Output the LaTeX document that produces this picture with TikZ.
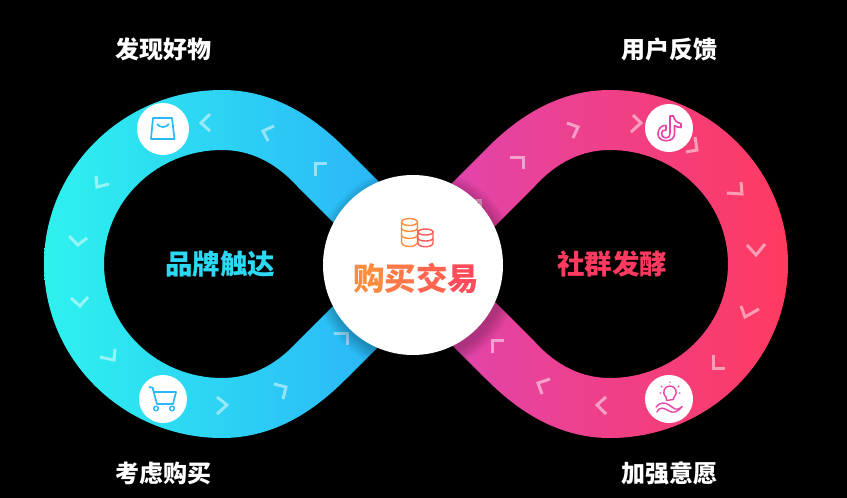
\documentclass[tikz,border=0pt]{standalone}
\usepackage{fontspec}
\setmainfont{Noto Sans CJK SC}
\definecolor{cyanend}{HTML}{2EF2EE}
\definecolor{blueend}{HTML}{2BB4F8}
\definecolor{magentaend}{HTML}{E045AE}
\definecolor{redend}{HTML}{FF3A60}
\definecolor{bagblue}{HTML}{2BB8F6}
\definecolor{iconpink}{HTML}{E545A8}
\definecolor{coinorange}{HTML}{FF8B3E}
\definecolor{coinred}{HTML}{FF5A58}
\tikzset{
  looplabel/.style={text=white,font=\bfseries\fontsize{24}{24}\selectfont,inner sep=0pt},
  lobelabel/.style={font=\bfseries\fontsize{27.5}{28}\selectfont,inner sep=0pt},
  iconspot/.style={circle,fill=white,inner sep=0pt,minimum size=48pt},
  chevronline/.style={white,opacity=.5,line width=3pt},
  bagline/.style={bagblue,line width=1.7pt,line join=round},
  pinkline/.style={iconpink,line width=1.4pt,line join=round,line cap=round},
}
\begin{document}
\begin{tikzpicture}[x=1pt,y=-1pt]
  \fill[black] (0,0) rectangle (847,498);
  \useasboundingbox (0,0) rectangle (847,498);
  % the two lobes of the band
  \shade[left color=cyanend,right color=blueend] (395,198) -- (345,148)
    .. controls (310,113) and (270,90) .. (222,90)
    .. controls (124,90) and (44,168) .. (44,264)
    .. controls (44,360) and (124,438) .. (222,438)
    .. controls (270,438) and (310,415) .. (345,380)
    -- (395,330) -- (350,289) -- (297,342)
    .. controls (275,366) and (250,378) .. (222,378)
    .. controls (157,378) and (104,327) .. (104,264)
    .. controls (104,201) and (157,150) .. (222,150)
    .. controls (250,150) and (275,162) .. (297,186)
    -- (350,239) -- cycle;
  \shade[left color=magentaend,right color=redend] (437,198) -- (487,148)
    .. controls (522,113) and (562,90) .. (610,90)
    .. controls (708,90) and (788,168) .. (788,264)
    .. controls (788,360) and (708,438) .. (610,438)
    .. controls (562,438) and (522,415) .. (487,380)
    -- (437,330) -- (482,289) -- (535,342)
    .. controls (557,366) and (582,378) .. (610,378)
    .. controls (675,378) and (728,327) .. (728,264)
    .. controls (728,201) and (675,150) .. (610,150)
    .. controls (582,150) and (557,162) .. (535,186)
    -- (482,239) -- cycle;
  % chevrons along the band
  \foreach \ax/\ay/\bx/\by/\cx/\cy in {
    210/114/201/123/210/131, 274/126/263/131/268/141, 327/163/315/163/315/176,
    109/184/97/187/96/176, 87/238/78/245/69/236, 88/297/80/306/71/298,
    100/357/114/360/115/349, 217/397/227/405/217/414, 274/384/286/387/283/399,
    334/333/347/333/347/345, 567/123/578/127/573/138, 633/115/641/123/631/132,
    510/157/523/157/523/169, 468/200/480/200/480/212, 686/152/697/150/695/137,
    727/193/742/194/741/182, 747/245/756/255/765/244, 741/306/745/317/759/309,
    713/355/713/368/725/368, 606/397/597/405/606/414, 550/379/538/383/542/394,
    504/340/492/340/492/353}
    \draw[chevronline] (\ax,\ay) -- (\bx,\by) -- (\cx,\cy);
  % soft shadow of the middle disc
  \foreach \r in {91,93,...,103}
    \fill[black,opacity=.035] (416,270) circle (\r);
  \node[circle,fill=white,inner sep=0pt,minimum size=180pt] (trade) at (413,265) {};
  \node[lobelabel] (trademark) at (416,278) {\fontsize{31.5}{32}\selectfont\textcolor[HTML]{FF8B3E}{购}\textcolor[HTML]{FF7848}{买}\textcolor[HTML]{FF6450}{交}\textcolor[HTML]{FF4C5A}{易}};
  % coins
  \draw[coinorange,line width=1.4pt] (409.5,222) ellipse[x radius=8,y radius=3.5]
    (401.5,222) -- (401.5,242) .. controls (401.5,248) and (417.5,248) .. (417.5,242) -- (417.5,222);
  \foreach \y in {228,235}
    \draw[coinorange,line width=1.4pt] (401.5,\y) .. controls (401.5,\y+4.5) and (417.5,\y+4.5) .. (417.5,\y);
  \draw[coinred,line width=1.4pt,fill=white] (425.5,232) ellipse[x radius=7.5,y radius=3]
    (418,232) -- (418,243) .. controls (418,248) and (433,248) .. (433,243) -- (433,232);
  \draw[coinred,line width=1.4pt] (418,238) .. controls (418,242) and (433,242) .. (433,238);
  \node[lobelabel,text=cyanend!60!blueend] (brand) at (220,264) {品牌触达};
  \node[lobelabel,text=redend] (community) at (612,264) {社群发酵};
  % icon spots
  \node[iconspot,minimum size=52pt] (bagspot) at (163,129) {};
  \node[iconspot] (tokspot) at (669,128) {};
  \node[iconspot] (cartspot) at (163,399) {};
  \node[iconspot] (bulbspot) at (669,399) {};
  \draw[bagline] (153,118) -- (172,118) -- (174.5,139) -- (151,139) -- cycle;
  \draw[bagline] (157,124) .. controls (160,128) and (166,128) .. (169,124);
  \draw[bagline] (149,387) -- (152.5,387.5) -- (157,404) -- (173,404) -- (176,392) -- (153.5,392);
  \draw[bagline,line width=1.5pt] (156,408.5) circle (2.3) (172,408.5) circle (2.3);
  \draw[pinkline,line width=1.6pt] (670,116) -- (673.5,116) .. controls (674,120) and (677,123) .. (681,123.5) -- (681,127.5)
    .. controls (678,127.5) and (676,126.5) .. (674.5,125.5) -- (674.5,134)
    .. controls (674.5,143) and (658,143) .. (658,134)
    .. controls (658,128) and (662,125) .. (666,125.5) -- (666,130)
    .. controls (660,129) and (660,138) .. (666,138)
    .. controls (669,138) and (670,136) .. (670,133) -- cycle;
  \draw[pinkline] (666.5,399.5) -- (666,397) .. controls (661,392) and (665,386) .. (670,386)
    .. controls (675,386) and (679,392) .. (674,397) -- (673.5,399.5) -- (666.5,400.5);
  \draw[pinkline] (661,386) -- (662,387) (679,386) -- (678,387) (660,393) -- (661,393) (680,393) -- (679,393)
    (670,382) -- (670,382.5);
  \draw[pinkline] (656,407) .. controls (660,402) and (665,402) .. (669,405) -- (675,409) .. controls (677,410) and (679,409) .. (682,406.5)
    (657,412) .. controls (660,406) and (664,408) .. (669,411) .. controls (673,413) and (677,413) .. (682,406.5);
  % corner labels
  \node[looplabel] (discover) at (163,49) {发现好物};
  \node[looplabel] (feedback) at (669,49) {用户反馈};
  \node[looplabel] (consider) at (163,473) {考虑购买};
  \node[looplabel] (intent) at (669,473) {加强意愿};
\end{tikzpicture}
\end{document}
